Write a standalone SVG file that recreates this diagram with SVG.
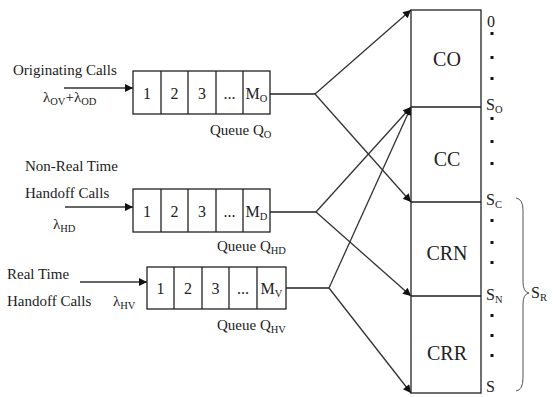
<svg xmlns="http://www.w3.org/2000/svg" width="553" height="397" viewBox="0 0 553 397" font-family="'Liberation Serif', 'Times New Roman', 'DejaVu Serif', serif">
<defs>
<style>
text{font-family:'Liberation Serif','Times New Roman','DejaVu Serif',serif;fill:#222;}
.t{font-size:15px;}
.c{font-size:16px;text-anchor:middle;}
.big{font-size:20px;text-anchor:middle;}
.s{font-size:16px;}
.sub{font-size:10.5px;}
.box{fill:#fff;stroke:#222;stroke-width:1.3;}
.ln{fill:none;stroke:#222;stroke-width:1.3;}
.br{fill:none;stroke:#555;stroke-width:1;}
.con{fill:none;stroke:#333;stroke-width:1.3;marker-end:url(#ah);}
.dot{fill:#111;}
</style>
<marker id="ah" viewBox="0 0 10 10" refX="10" refY="5" markerWidth="10" markerHeight="8" markerUnits="userSpaceOnUse" orient="auto">
<path d="M0,0 L10,5 L0,10 z" fill="#111"/>
</marker>
</defs>
<rect width="553" height="397" fill="#fff"/>

<g id="connectors">
<line class="con" x1="64" y1="88" x2="133" y2="88"/>
<line class="con" x1="65" y1="207" x2="133" y2="207"/>
<line class="con" x1="80" y1="282" x2="147" y2="282"/>
<polyline class="ln" points="270,94 315,94"/>
<polyline class="ln" points="270,212 316,212"/>
<polyline class="ln" points="286,288 329,288"/>
<line class="con" x1="315" y1="94" x2="411" y2="10"/>
<line class="con" x1="315" y1="94" x2="411" y2="202"/>
<line class="con" x1="316" y1="212" x2="411" y2="107"/>
<line class="con" x1="316" y1="212" x2="411" y2="296"/>
<line class="con" x1="329" y1="288" x2="411" y2="107"/>
<line class="con" x1="329" y1="288" x2="411" y2="393"/>
</g>

<g id="source-originating">
<text class="t" x="13" y="75">Originating Calls</text>
<text class="t" x="43" y="102">λ<tspan class="sub" dy="3">OV</tspan><tspan dy="-3">+λ</tspan><tspan class="sub" dy="3">OD</tspan></text>
</g>

<g id="queue-o">
<rect class="box" x="133" y="71" width="137" height="43"/>
<path class="ln" d="M161,71V114M188,71V114M216,71V114M243,71V114"/>
<text class="c" x="147" y="99">1</text>
<text class="c" x="174.5" y="99">2</text>
<text class="c" x="202" y="99">3</text>
<text class="c" x="229.5" y="99">...</text>
<text class="c" x="256.5" y="99">M<tspan class="sub" dy="3">O</tspan></text>
<text class="t" x="210" y="135">Queue Q<tspan class="sub" dy="3">O</tspan></text>
</g>

<g id="source-nrt">
<text class="t" x="25" y="171">Non-Real Time</text>
<text class="t" x="25" y="198">Handoff Calls</text>
<text class="t" x="53" y="229">λ<tspan class="sub" dy="3">HD</tspan></text>
</g>

<g id="queue-hd">
<rect class="box" x="133" y="189" width="137" height="43"/>
<path class="ln" d="M161,189V232M188,189V232M216,189V232M243,189V232"/>
<text class="c" x="147" y="217">1</text>
<text class="c" x="174.5" y="217">2</text>
<text class="c" x="202" y="217">3</text>
<text class="c" x="229.5" y="217">...</text>
<text class="c" x="256.5" y="217">M<tspan class="sub" dy="3">D</tspan></text>
<text class="t" x="217" y="251">Queue Q<tspan class="sub" dy="3">HD</tspan></text>
</g>

<g id="source-rt">
<text class="t" x="7" y="279">Real Time</text>
<text class="t" x="7" y="306">Handoff Calls</text>
<text class="t" x="113" y="306">λ<tspan class="sub" dy="3">HV</tspan></text>
</g>

<g id="queue-hv">
<rect class="box" x="147" y="267" width="139" height="42"/>
<path class="ln" d="M174,267V309M202,267V309M229,267V309M257,267V309"/>
<text class="c" x="160.5" y="294">1</text>
<text class="c" x="188" y="294">2</text>
<text class="c" x="215.5" y="294">3</text>
<text class="c" x="243" y="294">...</text>
<text class="c" x="271.5" y="294">M<tspan class="sub" dy="3">V</tspan></text>
<text class="t" x="217" y="330">Queue Q<tspan class="sub" dy="3">HV</tspan></text>
</g>

<g id="channels">
<rect class="box" x="411" y="10" width="70" height="383"/>
<path class="ln" d="M411,107H481M411,202H481M411,296H481"/>
</g>
<g id="co"><text class="big" x="447" y="66">CO</text></g>
<g id="cc"><text class="big" x="447" y="166">CC</text></g>
<g id="crn"><text class="big" x="447" y="260">CRN</text></g>
<g id="crr"><text class="big" x="447" y="360">CRR</text></g>

<g id="thresholds">
<text class="s" x="487" y="27">0</text>
<rect class="dot" x="490.5" y="32" width="3" height="3"/>
<rect class="dot" x="490.5" y="56" width="3" height="3"/>
<rect class="dot" x="490.5" y="77" width="3" height="3"/>
<text class="s" x="486" y="110">S<tspan class="sub" dy="3">O</tspan></text>
<rect class="dot" x="490.5" y="117" width="3" height="3"/>
<rect class="dot" x="490.5" y="140" width="3" height="3"/>
<rect class="dot" x="490.5" y="162" width="3" height="3"/>
<text class="s" x="486" y="205">S<tspan class="sub" dy="3">C</tspan></text>
<rect class="dot" x="490.5" y="219" width="3" height="3"/>
<rect class="dot" x="490.5" y="241" width="3" height="3"/>
<rect class="dot" x="490.5" y="261" width="3" height="3"/>
<text class="s" x="486" y="300">S<tspan class="sub" dy="3">N</tspan></text>
<rect class="dot" x="490.5" y="314" width="3" height="3"/>
<rect class="dot" x="490.5" y="334" width="3" height="3"/>
<rect class="dot" x="490.5" y="354" width="3" height="3"/>
<text class="s" x="486" y="392">S</text>
</g>

<g id="sr">
<path class="br" d="M516,198 Q523,199 523,210 L523,282 Q523,292 529,293 Q523,294 523,304 L523,378 Q523,390 516,391"/>
<text class="s" x="531" y="298">S<tspan class="sub" dy="3">R</tspan></text>
</g>
</svg>
